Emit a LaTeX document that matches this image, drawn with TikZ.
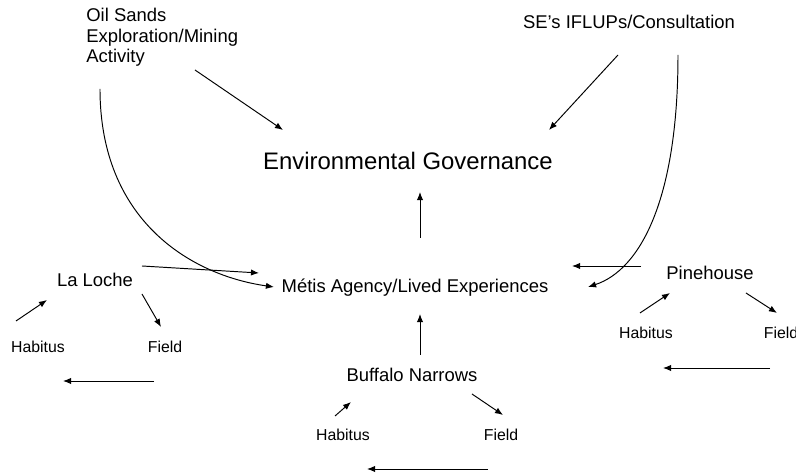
\documentclass[tikz,border=0pt]{standalone}
\usepackage{fontspec}
\setmainfont{Liberation Sans}
\usetikzlibrary{arrows.meta}
\tikzset{
  lbl/.style={inner sep=0pt, anchor=base, font=\fontsize{10.5}{11.7}\selectfont},
  big/.style={inner sep=0pt, anchor=base, font=\fontsize{13.6}{16}\selectfont},
  sml/.style={inner sep=0pt, anchor=base, font=\fontsize{9}{11}\selectfont},
  arr/.style={line width=0.55pt, -{Latex[length=4.6pt,width=3.6pt]}}
}

\begin{document}
\begin{tikzpicture}[x=0.02cm, y=0.02cm]
  \useasboundingbox (0,0) rectangle (796,476);

  % outside influences (base of a multi-line node is its last line)
  \node[lbl, anchor=base west, align=left] (oil) at (86,413) {Oil Sands\\Exploration/Mining\\Activity};
  \node[lbl] (se) at (629,447) {SE’s IFLUPs/Consultation};

  \node[big] (envgov) at (408,306) {Environmental Governance};
  \node[lbl] (metis) at (415,183) {Métis Agency/Lived Experiences};

  % communities
  \node[lbl] (laloche) at (95,189) {La Loche};
  \node[lbl] (pinehouse) at (710,196) {Pinehouse};
  \node[lbl] (buffalo) at (412,94) {Buffalo Narrows};

  \node[sml] (habLL) at (38,123) {Habitus};
  \node[sml] (fieldLL) at (165,123) {Field};
  \node[sml] (habPH) at (646,137) {Habitus};
  \node[sml] (fieldPH) at (781,137) {Field};
  \node[sml] (habBN) at (343,35) {Habitus};
  \node[sml] (fieldBN) at (501,35) {Field};

  % into governance
  \draw[arr] ([shift={(109,-7)}]oil.base west) -- ([shift={(-125,40)}]envgov.base);
  \draw[arr] ([shift={(-11,-26)}]se.base) -- ([shift={(141,40)}]envgov.base);
  \draw[arr] ([shift={(5,55)}]metis.base) -- ([shift={(12,-22)}]envgov.base);

  % into agency
  \draw[arr] ([shift={(14,-26)}]oil.base west) .. controls +(0,-131) and +(-84,12) .. ([shift={(-141,6)}]metis.base);
  \draw[arr] ([shift={(49,-26)}]se.base) .. controls +(0,-145) and +(52,17) .. ([shift={(173,6)}]metis.base);
  \draw[arr] ([shift={(47,21)}]laloche.base) -- ([shift={(-156,20)}]metis.base);
  \draw[arr] ([shift={(-69,14)}]pinehouse.base) -- ([shift={(157,27)}]metis.base);
  \draw[arr] ([shift={(8,27)}]buffalo.base) -- ([shift={(5,-21)}]metis.base);

  % habitus / field loops
  \draw[arr] ([shift={(-22,32)}]habLL.base) -- ([shift={(-48,-13)}]laloche.base);
  \draw[arr] ([shift={(47,-7)}]laloche.base) -- ([shift={(-4,26)}]fieldLL.base);
  \draw[arr] ([shift={(-11,-28)}]fieldLL.base) -- ([shift={(25,-28)}]habLL.base);

  \draw[arr] ([shift={(-8,25)}]habBN.base) -- ([shift={(-61,-20)}]buffalo.base);
  \draw[arr] ([shift={(60,-12)}]buffalo.base) -- ([shift={(2,26)}]fieldBN.base);
  \draw[arr] ([shift={(-13,-28)}]fieldBN.base) -- ([shift={(24,-28)}]habBN.base);

  \draw[arr] ([shift={(-6,26)}]habPH.base) -- ([shift={(-40,-13)}]pinehouse.base);
  \draw[arr] ([shift={(36,-13)}]pinehouse.base) -- ([shift={(-4,26)}]fieldPH.base);
  \draw[arr] ([shift={(-11,-29)}]fieldPH.base) -- ([shift={(17,-29)}]habPH.base);
\end{tikzpicture}
\end{document}
